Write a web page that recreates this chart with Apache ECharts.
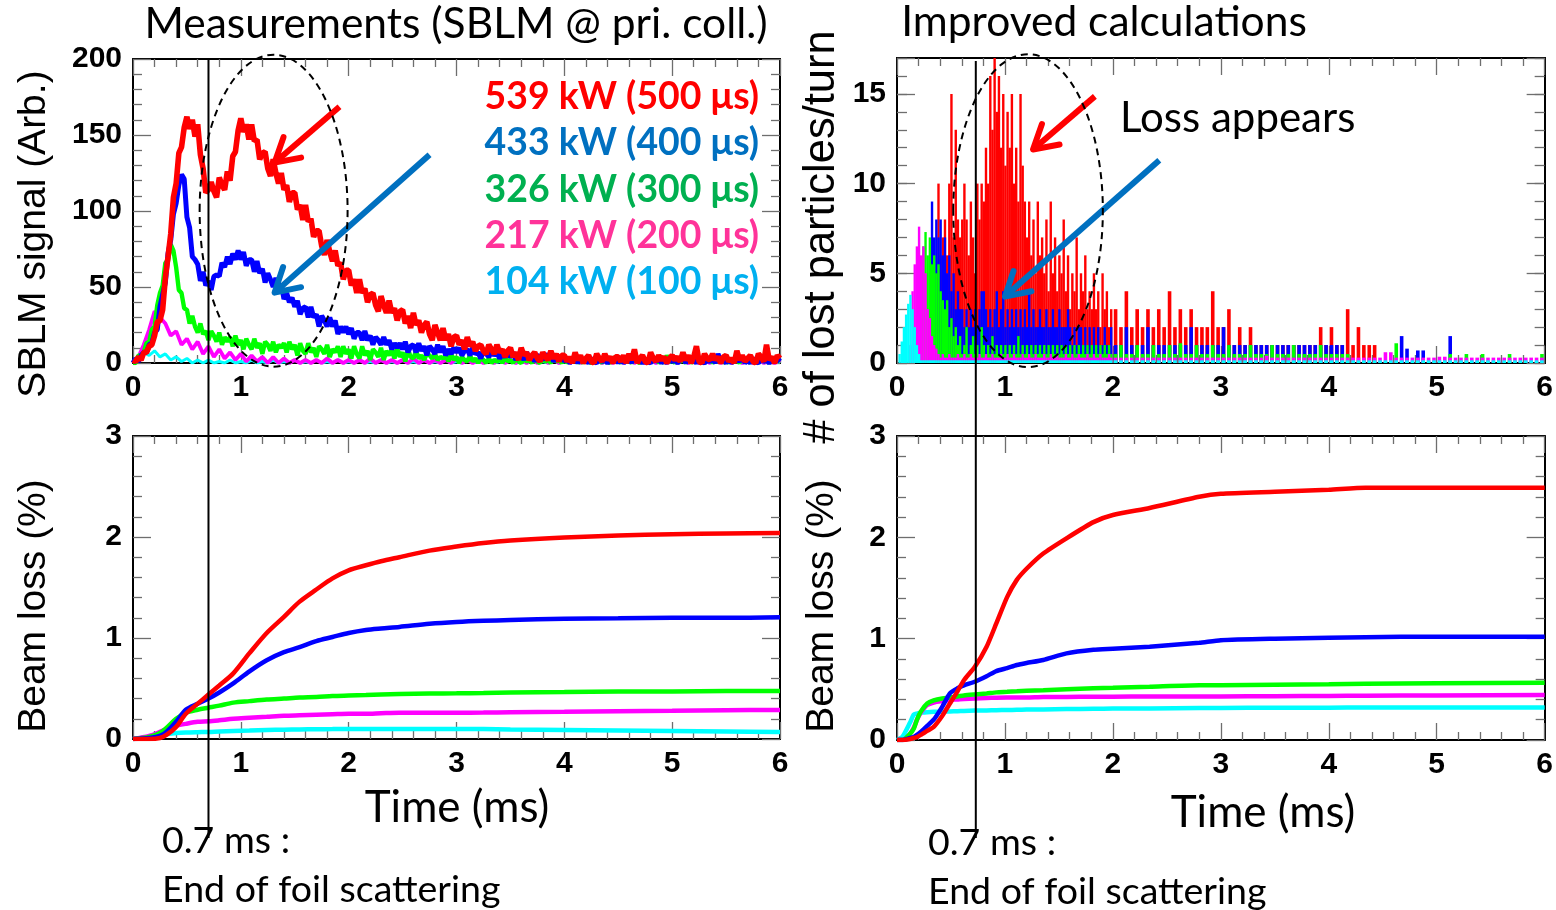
<!DOCTYPE html>
<html><head><meta charset="utf-8">
<script src="https://cdn.jsdelivr.net/npm/echarts@6/dist/echarts.min.js"></script>
<style>html,body{margin:0;padding:0;background:#fff}#c{width:1556px;height:910px}</style>
</head><body><div id="c"></div><script>
// ---------------- DATA ----------------
const seriesColors = ['#FF0000', '#0000FF', '#00FF00', '#FF00FF', '#00FFFF'];
const legendLabels = ['539 kW (500 μs)', '433 kW (400 μs)', '326 kW (300 μs)', '217 kW (200 μs)', '104 kW (100 μs)'];
const legendColors = ['#FF0000', '#0070C0', '#00B050', '#FF3399', '#00B0F0'];
const xTickLabels = ['0', '1', '2', '3', '4', '5', '6'];

// Top-left: measured SBLM signal. red/blue/green sampled every 0.025 ms, magenta/cyan every 0.05 ms (0 to 6 ms)
const measStepFine = 0.025, measStepCoarse = 0.05;
const measRed = [2,1,4,2,7,7,11,12,18,27,28,35,56,70,85,109,118,138,142,155,
  162,154,160,149,157,137,128,112,114,119,113,109,122,117,114,126,120,136,139,153,
  161,152,157,147,157,146,147,134,138,139,128,123,134,125,118,125,114,117,106,112,
  112,101,104,94,104,93,95,83,87,87,77,71,81,73,67,74,64,66,55,61,
  61,51,55,46,55,46,49,40,45,46,38,34,44,38,33,41,33,36,28,34,
  35,26,31,23,33,25,28,20,25,27,19,15,25,20,15,23,15,19,11,17,
  18,12,15,9,17,11,14,8,11,12,8,6,12,9,6,12,7,9,4,8,
  10,4,7,2,10,5,7,2,5,7,3,1,7,4,2,8,3,6,1,5,
  5,1,4,0,7,2,5,0,3,5,1,0,6,3,1,6,2,4,0,4,
  4,1,5,0,6,2,9,0,3,5,1,0,7,3,1,5,2,4,0,3,
  5,2,4,1,7,2,5,0,4,11,1,0,6,3,2,6,2,4,0,4,
  5,1,3,0,8,2,5,1,3,5,1,0,6,4,1,12,2,4,0,5,3];
const measBlue = [0,3,1,5,7,7,12,13,20,22,37,45,53,72,81,98,105,117,124,121,
  96,89,70,68,65,54,60,51,54,48,57,58,57,66,63,70,65,72,68,74,
  68,73,64,68,68,60,67,59,62,53,59,55,50,56,49,52,42,46,40,43,
  37,41,32,36,37,30,37,30,32,24,31,28,24,30,24,28,19,24,20,24,
  19,23,16,20,20,15,21,15,18,12,17,15,12,17,12,15,9,13,10,13,
  9,14,7,11,12,7,13,8,11,5,11,9,6,12,7,11,5,9,6,10,
  7,10,5,8,9,5,10,6,7,3,8,6,4,8,5,7,3,6,4,7,
  4,7,2,5,6,2,7,3,5,1,5,4,2,6,3,5,1,4,2,5,
  1,3,0,2,3,0,4,1,2,0,3,1,0,3,1,2,0,2,1,3,
  0,3,0,2,3,0,5,1,2,0,2,1,0,3,1,3,0,2,0,3,
  1,2,0,2,4,0,3,1,2,0,3,1,0,2,1,3,0,6,1,2,
  0,3,0,2,3,1,4,0,2,0,3,1,0,3,1,2,0,2,1,3,1];
const measGreen = [0,0,5,5,7,13,14,22,24,38,46,51,66,67,78,74,63,48,46,36,
  35,26,31,24,20,26,19,21,15,21,18,14,20,12,17,14,17,11,18,12,
  15,9,16,12,9,16,10,13,6,14,12,8,14,7,12,10,13,7,14,9,
  12,5,13,8,6,13,7,10,4,11,9,6,12,4,9,7,11,4,11,6,
  9,3,11,6,3,11,5,8,2,9,7,4,10,2,8,5,9,3,10,4,
  7,1,9,4,3,8,3,5,2,6,5,3,6,2,4,3,5,1,6,2,
  4,0,4,2,1,5,1,3,0,3,2,0,3,0,2,1,3,0,4,1,
  2,0,3,1,0,3,1,2,0,3,1,0,3,1,2,0,4,1,2,0,
  3,0,2,1,3,0,2,0,3,1,0,3,1,2,0,3,1,0,4,1,
  2,0,3,1,2,0,3,1,0,2,3,0,2,1,3,0,2,0,5,1,
  2,0,3,1,2,0,3,0,2,1,3,0,2,1,4,0,2,1,3,0,
  2,0,3,1,2,0,4,1,2,0,3,1,0,3,1,2,0,3,1,2,1];
const measMagenta = [0,4,12,22,34,30,26,18,21,12,16,9,14,6,11,4,9,3,7,2,6,1,5,1,4,0,4,0,3,0,2,0,2,0,2,0,3,0,2,0,2,0,2,0,3,0,2,0,2,0,2,0,3,0,2,0,2,0,2,0,3,0,2,0,2,0,2,0,3,0,2,0,2,0,2,0,3,0,2,0,2,0,2,0,3,0,2,0,2,0,2,0,3,0,2,0,2,0,2,0,3,0,2,0,2,0,2,0,3,0,2,0,2,0,2,0,3,0,2,0,2];
const measCyan = [0,3,7,5,8,4,6,2,4,1,3,0,2,0,2,0,1,0,2,0,1,0,2,0,1,0,2,0,1,0,2,0,1,0,2,0,1,0,2,0,1,0,2,0,1,0,2,0,1,0,2,0,1,0,2,0,1,0,2,0,1,0,2,0,1,0,2,0,1,0,2,0,1,0,2,0,1,0,2,0,1,0,2,0,1,0,2,0,1,0,2,0,1,0,2,0,1,0,2,0,1,0,2,0,1,0,2,0,1,0,2,0,1,0,2,0,1,0,2,0,1];

// Top-right: simulated lost particles / turn. Dense bins of 0.02 ms (0-2 ms), tail bins of 0.05 ms (2-6 ms)
const simDenseStep = 0.02, simTailStart = 2.0, simTailStep = 0.05;
const simRedDense = [0,0,0,0,0,0,0,0,0,0,0,0,0,0,0,0,0,0,2,10,
  6,7,8,6,10,15,7,13,8,7, 8,10,8,6,9,7,5,10,8,10, 9,12,10,16,13,17,14,16,12,15, 11,14,12,15,10,12,9,15,11,9,
  7,9,6,8,5,9,6,7,5,8, 4,9,5,7,4,6,5,8,4,6, 3,5,4,7,3,5,4,6,3,4, 3,5,3,4,2,5,3,4,2,3];
const simRedTail = [3,2,4,2,3,2,3,2,3,2, 4,2,3,2,3,2,2,2,4,2, 2,3,1,2,1,2,1,1,1,1, 1,1,1,1,1,1,1,1,2,1,
  2,1,1,3,1,2,1,1,1,0, 0,0,0,0,0,0,0,0,0,0, 0,0,0,0,0,0,0,0,0,0, 0,0,0,0,0,0,0,0,0,0];
const simBlueDense = [0,0,0,0,0,0,0,0,0,0,0,0,0,0,0,3,9,7,8,7,
  8,6,7,5,6,4,5,3,4,3, 3,2,3,2,3,2,3,2,3,4, 4,3,2,3,2,3,4,2,3,4, 2,3,2,3,2,3,2,3,2,3,
  2,4,2,3,2,2,3,2,2,3, 2,2,3,2,2,3,2,2,2,3, 2,1,2,1,2,2,1,2,1,2, 1,2,1,2,1,1,2,1,1,2];
const simBlueTail = [1,1,2,1,1,1,2,1,1,1, 1,1,1,1,2,1,1,1,1,1, 2,1,1,1,1,1,1,1,1,1, 1,1,1,1,1,1,1,1,1,1,
  1,1,1,0,0,0,0,0,0,0, 0,0,0,1.5,0.8,0,0.7,0.7,0,0, 0,0,1.5,0,0,0,0,0,0,0, 0,0,0,0,0,0,0,0,0,0];
const simGreenDense = [0,0,0,0,0,0,0,0,0,0, 2,5,6.5,7.3,6,7,5.5,6,5,5.5,
  4,3.5,3,3.5,2,2.5,1.5,2,1,1.5, 0.5,1,2,0.5,1,1.5,0.5,1,0.5,2, 1,0.5,1,0.5,1.5,0.5,1,0.5,1,0.5, 1,0.5,1,0.5,1,0.5,1.5,0.5,1,0.5,
  1,0.5,1,0.5,1,0.5,1,0.5,1,0.5, 1,0.5,1,0.5,1,0.5,1,0.5,1,0.5, 1,0.5,1,0.5,1,0.5,1,0.5,1,0.5, 1,0.5,1,0.5,1,0.5,1,0.5,1,0.5];
const simGreenTail = [0.5,1,0.5,0.5,1,0.5,0.5,1,0.5,0.5, 1,0.5,1.1,0.5,0.5,1,0.5,0.5,1,0.5, 0.5,1,0.5,0.5,0.5,1,0.5,0.5,0.5,1, 0.5,0.5,0.5,1,0.5,0.5,0.5,0.5,1,0.5,
  0.5,0.5,0.5,0.5,0,0,0,0,0,0, 0,0,1.1,0,0,0,0,0,0,0, 0,0,0.5,0,0,0.5,0,0,0.5,0, 0,0,0,0.5,0,0,0,0,0,0.5];
const simMagentaDense = [0,0,0,0,0,0,1,4,5.5,6.5, 7.6,6,6.5,5,3,2.5,1.5,1,0.8,0.5,
  0.3,0.5,0.3,0.3,0.5,0.3,0.3,0.3,0.5,0.3, 0.3,0.5,0.3,0.3,0.5,0.3,0.3,0.3,0.5,0.3, 0.3,0.5,0.3,0.3,0.5,0.3,0.3,0.3,0.5,0.3, 0.3,0.5,0.3,0.3,0.5,0.3,0.3,0.3,0.5,0.3,
  0.3,0.5,0.3,0.3,0.5,0.3,0.3,0.3,0.5,0.3, 0.3,0.5,0.3,0.3,0.5,0.3,0.3,0.3,0.5,0.3, 0.3,0.5,0.3,0.3,0.5,0.3,0.3,0.3,0.5,0.3, 0.3,0.5,0.3,0.3,0.5,0.3,0.3,0.3,0.5,0.3];
const simMagentaTail = [0.3,0.3,0.3,0.3,0.3,0.3,0.3,0.3,0.3,0.3, 0.3,0.3,0.3,0.3,0.3,0.3,0.3,0.3,0.3,0.3, 0.3,0.3,0.3,0.3,0.3,0.3,0.3,0.3,0.4,0.3, 0.3,0.3,0.3,0.3,0.3,0.3,0.3,0.3,0.3,0.3,
  0.3,0.3,0.3,0.3,0.3,0.3,0.3,0.3,0.3,0.3, 0.6,0.6,0.3,0.3,0.3,0.3,0.3,0.3,0.3,0.3, 0.35,0.35,0.3,0.3,0.3,0.3,0.3,0.3,0.3,0.3, 0.3,0.3,0.3,0.3,0.3,0.3,0.3,0.3,0.3,0.3];
const simCyanDense = [0,0.5,1.2,2,2.7,3.3,3.8,3,2,1, 0.5,0.15,0.15,0.15,0.15,0.15,0.15,0.15,0.15,0.15,
  0.15,0.15,0.15,0.15,0.15,0.15,0.15,0.15,0.15,0.15, 0.15,0.15,0.15,0.15,0.15,0.15,0.15,0.15,0.15,0.15, 0.15,0.15,0.15,0.15,0.15,0.15,0.15,0.15,0.15,0.15, 0.15,0.15,0.15,0.15,0.15,0.15,0.15,0.15,0.15,0.15,
  0.15,0.15,0.15,0.15,0.15,0.15,0.15,0.15,0.15,0.15, 0.15,0.15,0.15,0.15,0.15,0.15,0.15,0.15,0.15,0.15, 0.15,0.15,0.15,0.15,0.15,0.15,0.15,0.15,0.15,0.15, 0.15,0.15,0.15,0.15,0.15,0.15,0.15,0.15,0.15,0.15];
const simCyanTail = [0.15,0.15,0.15,0.15,0.15,0.15,0.15,0.15,0.15,0.15, 0.15,0.15,0.15,0.15,0.15,0.15,0.15,0.15,0.15,0.15, 0.15,0.15,0.15,0.15,0.15,0.15,0.15,0.15,0.15,0.15, 0.15,0.15,0.15,0.15,0.15,0.15,0.15,0.15,0.15,0.15,
  0.15,0.15,0.15,0.15,0.15,0.15,0.15,0.15,0.15,0.15, 0.15,0.15,0.15,0.15,0.15,0.15,0.15,0.15,0.15,0.15, 0.15,0.15,0.15,0.15,0.15,0.15,0.15,0.15,0.15,0.15, 0.15,0.15,0.15,0.15,0.15,0.15,0.15,0.15,0.15,0.15];

// Bottom-left: measured cumulative beam loss (%)
const measLossTime = [0,0.15,0.25,0.31,0.4,0.49,0.6,0.7,0.8,0.93,1.08,1.24,1.4,1.545,1.7,1.85,2.0,2.16,2.3,2.47,2.75,3.0,3.25,3.5,4.0,4.5,5.0,5.5,6.0];
const measLossRed = [0,0,0.01,0.04,0.12,0.25,0.35,0.44,0.53,0.65,0.85,1.05,1.21,1.36,1.48,1.59,1.67,1.72,1.76,1.8,1.865,1.905,1.94,1.965,1.995,2.015,2.028,2.035,2.04];
const measLossBlue = [0,0.01,0.03,0.07,0.17,0.29,0.35,0.4,0.46,0.55,0.67,0.78,0.86,0.91,0.97,1.01,1.05,1.08,1.095,1.11,1.14,1.158,1.17,1.178,1.19,1.195,1.2,1.2,1.205];
const measLossGreen = [0,0.02,0.06,0.11,0.2,0.26,0.29,0.31,0.33,0.36,0.375,0.39,0.4,0.41,0.415,0.425,0.43,0.435,0.44,0.445,0.45,0.452,0.455,0.46,0.465,0.47,0.47,0.475,0.475];
const measLossMagenta = [0,0.03,0.07,0.1,0.13,0.15,0.17,0.175,0.185,0.2,0.21,0.22,0.23,0.235,0.24,0.245,0.25,0.25,0.255,0.26,0.26,0.26,0.262,0.265,0.27,0.275,0.28,0.285,0.287];
const measLossCyan = [0,0.02,0.04,0.05,0.06,0.065,0.068,0.07,0.075,0.08,0.085,0.09,0.092,0.095,0.097,0.098,0.1,0.1,0.1,0.1,0.1,0.1,0.098,0.095,0.09,0.085,0.08,0.075,0.07];

// Bottom-right: simulated cumulative beam loss (%)
const simLossTime = [0,0.05,0.12,0.155,0.185,0.22,0.28,0.34,0.42,0.49,0.56,0.62,0.72,0.83,0.92,1.02,1.11,1.2,1.355,1.57,1.82,2.0,2.34,2.8,3.0,3.5,4.0,4.34,5.0,6.0];
const simLossRed = [0,0,0.01,0.02,0.03,0.05,0.09,0.13,0.24,0.36,0.48,0.59,0.72,0.92,1.15,1.41,1.58,1.69,1.84,1.99,2.15,2.22,2.29,2.4,2.43,2.45,2.47,2.49,2.49,2.49];
const simLossBlue = [0,0,0.02,0.03,0.05,0.08,0.14,0.2,0.33,0.46,0.51,0.54,0.575,0.63,0.68,0.71,0.74,0.76,0.79,0.855,0.89,0.9,0.92,0.96,0.985,1.0,1.01,1.015,1.02,1.02];
const simLossGreen = [0,0,0.06,0.11,0.2,0.28,0.36,0.39,0.41,0.42,0.43,0.44,0.45,0.46,0.47,0.475,0.48,0.485,0.49,0.5,0.51,0.515,0.525,0.54,0.54,0.545,0.55,0.555,0.56,0.565];
const simLossMagenta = [0,0,0.06,0.12,0.2,0.27,0.345,0.37,0.385,0.395,0.4,0.405,0.41,0.415,0.418,0.42,0.42,0.42,0.425,0.425,0.427,0.428,0.43,0.43,0.43,0.432,0.435,0.437,0.44,0.445];
const simLossCyan = [0,0.03,0.17,0.25,0.26,0.27,0.275,0.278,0.28,0.282,0.284,0.286,0.29,0.292,0.294,0.296,0.298,0.3,0.302,0.305,0.308,0.31,0.312,0.315,0.316,0.318,0.319,0.32,0.32,0.32];

// end of foil scattering marker (ms), as drawn in each column
const foilEndLeft = 0.7, foilEndRight = 0.73;

// ---------------- CHART ----------------
const chart = echarts.init(document.getElementById('c'), null, {renderer: 'canvas'});
const TICK = '#6e6e6e';
const labelFont = {color: '#000', fontFamily: 'Liberation Sans', fontWeight: 'bold', fontSize: 30};
const calibri = 'Lato';

function xAx(g, pos, lab) {
  return {type: 'value', gridIndex: g, position: pos, min: 0, max: 6, interval: 1,
    axisLine: {show: true, onZero: false, lineStyle: {color: '#000', width: 2}},
    axisTick: {show: true, inside: true, length: 17, lineStyle: {color: TICK, width: 1.3}},
    minorTick: {show: true, splitNumber: 5, length: 8, lineStyle: {color: TICK, width: 1.3}},
    splitLine: {show: false}, minorSplitLine: {show: false},
    axisLabel: lab ? Object.assign({show: true, margin: 10, showMinLabel: true, showMaxLabel: true,
      formatter: v => xTickLabels[Math.round(v)]}, labelFont) : {show: false}};
}
function yAx(g, pos, lab, max, interval, minor, len, mlen) {
  return {type: 'value', gridIndex: g, position: pos, min: 0, max: max, interval: interval,
    axisLine: {show: true, onZero: false, lineStyle: {color: '#000', width: 2}},
    axisTick: {show: true, inside: true, length: len, lineStyle: {color: TICK, width: 1.3}},
    minorTick: {show: minor > 0, splitNumber: minor || 5, length: mlen, lineStyle: {color: TICK, width: 1.3}},
    splitLine: {show: false}, minorSplitLine: {show: false},
    axisLabel: lab ? Object.assign({show: true, margin: 11, showMinLabel: true, showMaxLabel: true}, labelFont) : {show: false}};
}

const xAxes = [
  xAx(0, 'bottom', true), xAx(0, 'top', false),
  xAx(1, 'bottom', true), xAx(1, 'top', false),
  xAx(2, 'bottom', true), xAx(2, 'top', false),
  xAx(3, 'bottom', true), xAx(3, 'top', false)
];
const trMinorL = yAx(1, 'left', true, 17, 1, 0, 10, 0);
trMinorL.axisLabel.formatter = v => (v % 5 === 0 && v < 17) ? String(v) : '';
const yAxes = [
  yAx(0, 'left', true, 200, 50, 5, 18, 9), yAx(0, 'right', false, 200, 50, 5, 18, 9),
  trMinorL, yAx(1, 'right', false, 17, 1, 0, 10, 0),
  yAx(2, 'left', true, 3, 1, 5, 18, 9), yAx(2, 'right', false, 3, 1, 5, 18, 9),
  yAx(3, 'left', true, 3, 1, 5, 18, 9), yAx(3, 'right', false, 3, 1, 5, 18, 9),
  yAx(1, 'left', false, 17, 5, 0, 18, 0), yAx(1, 'right', false, 17, 5, 0, 18, 0)
];

const series = [];
// Top-left (draw cyan first, red last on top)
const measSets = [measRed, measBlue, measGreen, measMagenta, measCyan];
const measSteps = [measStepFine, measStepFine, measStepFine, measStepCoarse, measStepCoarse];
const measWidths = [5.6, 5.0, 4.4, 3.8, 3.0];
[4, 3, 2, 1, 0].forEach(k => {
  series.push({type: 'line', name: legendLabels[k], xAxisIndex: 0, yAxisIndex: 0, symbol: 'none', silent: true,
    lineStyle: {color: seriesColors[k], width: measWidths[k]}, z: 2 + (4 - k),
    data: measSets[k].map((v, i) => [i * measSteps[k], v])});
});
// Top-right (red first, cyan on top)
const simDense = [simRedDense, simBlueDense, simGreenDense, simMagentaDense, simCyanDense];
const simTail = [simRedTail, simBlueTail, simGreenTail, simMagentaTail, simCyanTail];
[0, 1, 2, 3, 4].forEach(k => {
  series.push({type: 'bar', name: legendLabels[k], xAxisIndex: 2, yAxisIndex: 2, barWidth: 2.4, barGap: '-100%',
    silent: true, itemStyle: {color: seriesColors[k]}, z: 2 + k,
    data: simDense[k].map((v, i) => [i * simDenseStep + simDenseStep / 2, v])});
  series.push({type: 'bar', name: legendLabels[k], xAxisIndex: 2, yAxisIndex: 2, barWidth: 3.6, barGap: '-100%',
    silent: true, itemStyle: {color: seriesColors[k]}, z: 2 + k,
    data: simTail[k].map((v, i) => [simTailStart + i * simTailStep + simTailStep / 2, v])});
});
// Bottom panels
const measLoss = [measLossRed, measLossBlue, measLossGreen, measLossMagenta, measLossCyan];
const simLoss = [simLossRed, simLossBlue, simLossGreen, simLossMagenta, simLossCyan];
[4, 3, 2, 1, 0].forEach(k => {
  series.push({type: 'line', name: legendLabels[k], xAxisIndex: 4, yAxisIndex: 4, symbol: 'none', smooth: 0.3, silent: true,
    lineStyle: {color: seriesColors[k], width: 4.5}, z: 2 + (4 - k),
    data: measLoss[k].map((v, i) => [measLossTime[i], v])});
  series.push({type: 'line', name: legendLabels[k], xAxisIndex: 6, yAxisIndex: 6, symbol: 'none', smooth: 0.2, silent: true,
    lineStyle: {color: seriesColors[k], width: 4.5}, z: 2 + (4 - k),
    data: simLoss[k].map((v, i) => [simLossTime[i], v])});
});

chart.setOption({
  backgroundColor: '#fff',
  animation: false,
  grid: [
    {left: 133, top: 59, width: 647, height: 304},
    {left: 897, top: 58, width: 649, height: 305},
    {left: 133, top: 436, width: 647, height: 303},
    {left: 897, top: 436, width: 649, height: 304}
  ],
  xAxis: xAxes, yAxis: yAxes, series: series
});

// ---------------- ANNOTATIONS ----------------
const P = (xi, yi, pt) => chart.convertToPixel({xAxisIndex: xi, yAxisIndex: yi}, pt);
const g = [];
function txt(x, y, text, opt) {
  g.push({type: 'text', x: x, y: y, rotation: opt.rot || 0, z: 100, silent: true,
    style: {text: text, fill: opt.color || '#000', fontFamily: opt.family || calibri,
      fontSize: opt.size, fontWeight: opt.weight || 'normal', align: opt.align || 'left', verticalAlign: 'middle',
      textAlign: opt.align || 'left', textVerticalAlign: 'middle'}});
}
function arrow(p0, p1, color) {
  const dx = p0[0] - p1[0], dy = p0[1] - p1[1], L = Math.hypot(dx, dy), ux = dx / L, uy = dy / L;
  const len = 27, a = Math.PI / 6;
  const arm = s => [p1[0] + len * (ux * Math.cos(s * a) - uy * Math.sin(s * a)), p1[1] + len * (ux * Math.sin(s * a) + uy * Math.cos(s * a))];
  g.push({type: 'line', z: 90, silent: true, shape: {x1: p0[0], y1: p0[1], x2: p1[0], y2: p1[1]}, style: {stroke: color, lineWidth: 6}});
  g.push({type: 'polyline', z: 90, silent: true, shape: {points: [arm(1), p1, arm(-1)]}, style: {stroke: color, lineWidth: 6, lineCap: 'round', lineJoin: 'round', fill: null}});
}
function ellipse(xi, yi, c, r) {
  const pc = P(xi, yi, c), pr = P(xi, yi, [c[0] + r[0], c[1] + r[1]]);
  g.push({type: 'ellipse', z: 95, silent: true, shape: {cx: pc[0], cy: pc[1], rx: Math.abs(pr[0] - pc[0]), ry: Math.abs(pr[1] - pc[1])},
    style: {stroke: '#000', lineWidth: 2, lineDash: [7, 5], fill: null}});
}
// vertical foil lines
const vl0 = P(0, 0, [foilEndLeft, 200]), vl1 = P(2, 2, [foilEndRight, 17]);
g.push({type: 'line', z: 96, silent: true, shape: {x1: vl0[0], y1: vl0[1], x2: vl0[0], y2: 838}, style: {stroke: '#000', lineWidth: 2}});
g.push({type: 'line', z: 96, silent: true, shape: {x1: vl1[0], y1: vl1[1] + 3, x2: vl1[0], y2: 838}, style: {stroke: '#000', lineWidth: 2}});
// ellipses
ellipse(0, 0, [1.304, 100.2], [0.686, 102.6]);
ellipse(2, 2, [1.214, 8.49], [0.693, 8.72]);
// arrows
arrow(P(0, 0, [1.915, 168.6]), P(0, 0, [1.313, 131.8]), '#FF0000');
arrow(P(0, 0, [2.75, 137]), P(0, 0, [1.313, 46.3]), '#0070C0');
arrow(P(2, 2, [1.833, 14.86]), P(2, 2, [1.26, 11.9]), '#FF0000');
arrow(P(2, 2, [2.43, 11.3]), P(2, 2, [1.0, 3.7]), '#0070C0');
// titles and labels
txt(456, 24, 'Measurements (SBLM @ pri. coll.)', {size: 42.5, align: 'center'});
txt(1104, 22, 'Improved calculations', {size: 42.5, align: 'center'});
txt(1120, 118, 'Loss appears', {size: 42});
legendLabels.forEach((s, k) => txt(759, 97 + k * 46.3, s, {size: 37.4, weight: 'bold', color: legendColors[k], align: 'right'}));
txt(457, 808, 'Time (ms)', {size: 44, align: 'center'});
txt(1263, 813, 'Time (ms)', {size: 44, align: 'center'});
txt(162, 841, '0.7 ms :', {size: 37.5});
txt(162, 890, 'End of foil scattering', {size: 37.5});
txt(928, 843, '0.7 ms :', {size: 37.5});
txt(928, 892, 'End of foil scattering', {size: 37.5});
txt(34, 234, 'SBLM signal (Arb.)', {size: 39, family: 'Liberation Sans', align: 'center', rot: Math.PI / 2});
txt(822, 237, '# of lost particles/turn', {size: 43.5, family: 'Liberation Sans', align: 'center', rot: Math.PI / 2});
txt(34, 606, 'Beam loss (%)', {size: 39, family: 'Liberation Sans', align: 'center', rot: Math.PI / 2});
txt(822, 606, 'Beam loss (%)', {size: 39, family: 'Liberation Sans', align: 'center', rot: Math.PI / 2});

chart.setOption({graphic: {elements: g}});
</script></body></html>
